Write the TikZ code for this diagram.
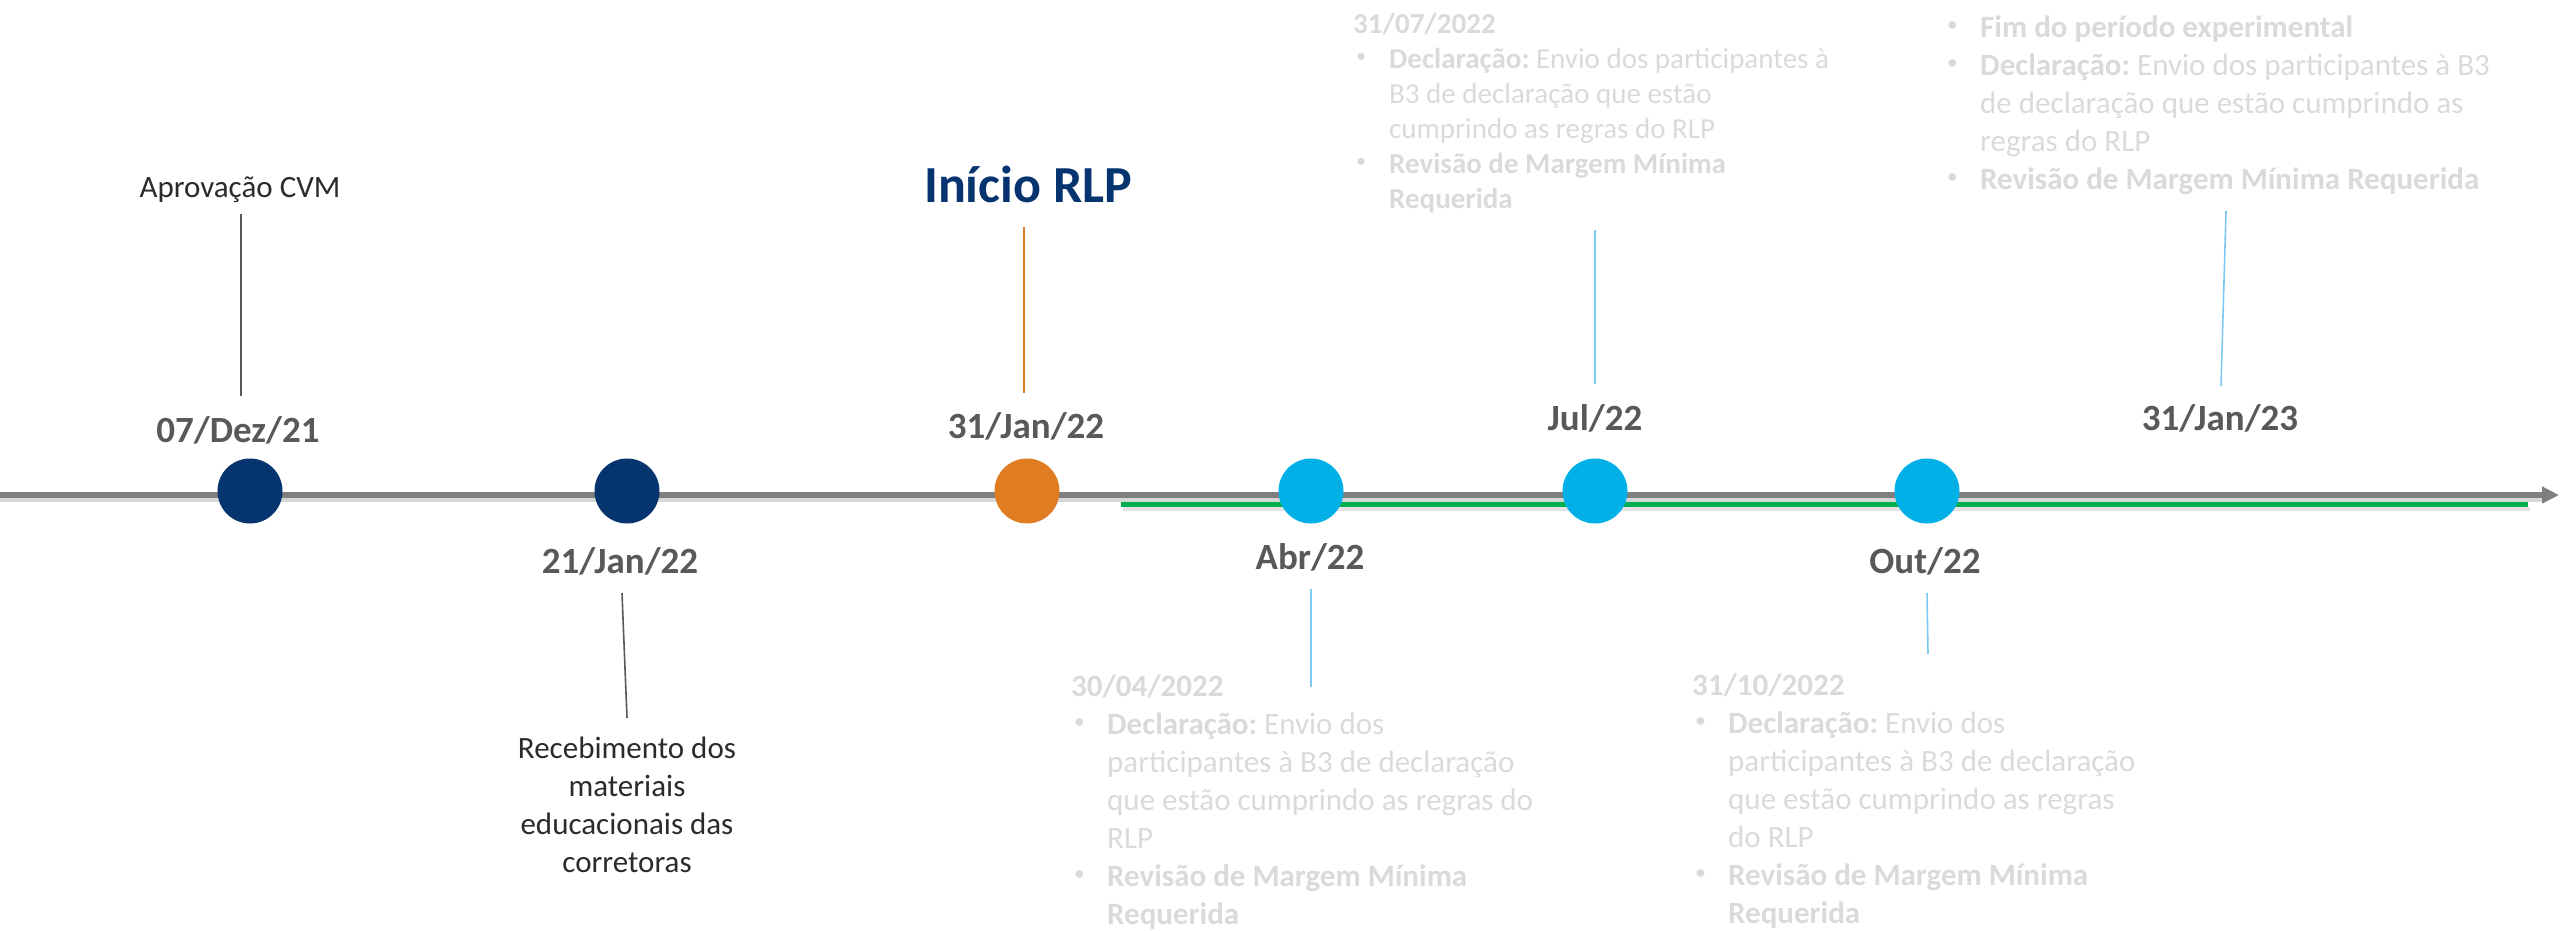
\documentclass[tikz,border=0pt]{standalone}
\usepackage{fontspec}
\setmainfont{Carlito}
\usetikzlibrary{arrows.meta}
\definecolor{navy}{HTML}{06346F}
\definecolor{orangeA}{HTML}{E07C22}
\definecolor{cyanA}{HTML}{00B0E6}
\definecolor{axisgray}{HTML}{7F7F7F}
\definecolor{greenA}{HTML}{00B050}
\definecolor{dategray}{HTML}{595959}
\definecolor{fadegray}{HTML}{DADADA}
\definecolor{textdark}{HTML}{2B2B2B}
\definecolor{conngray}{HTML}{595959}
\definecolor{lightblue}{HTML}{7DC8F0}
\frenchspacing
\newcommand\blkbul{\makebox[36pt][l]{\hspace*{3pt}\raisebox{0.18em}{\scalebox{0.7}{•}}}}
\newcommand\blkind{\hspace*{36pt}}
\tikzset{
  dot/.style={circle, minimum size=65pt, inner sep=0pt, draw=none},
  datelbl/.style={anchor=base, inner sep=0pt, text=dategray, font=\fontsize{37}{44}\selectfont\bfseries},
  faded/.style={anchor=base west, inner sep=0pt, text=fadegray},
  eventtxt/.style={anchor=base, inner sep=0pt, text=textdark, font=\fontsize{31}{38}\selectfont},
  conndark/.style={draw=conngray, line width=1.6pt},
  connblue/.style={draw=lightblue, line width=1.6pt},
  connorange/.style={draw=orangeA, line width=1.6pt},
}
\begin{document}
\begin{tikzpicture}[x=1pt, y=-1pt]
\useasboundingbox (0,0) rectangle (2560,930);
% axis with shadow
\coordinate (axL) at (0,495);
\coordinate (axR) at (2559,495);
\coordinate (axsL) at (0,500);
\coordinate (axsR) at (2543,500);
\draw[line width=4pt, gray!45, opacity=0.7] (axsL) -- (axsR);
\draw[line width=5.5pt, axisgray, -{Triangle[length=17pt,width=16pt]}] (axL) -- (axR);
% green period line with shadow
\coordinate (grL) at (1121,504.5);
\coordinate (grR) at (2528,504.5);
\coordinate (grsL) at (1123,509);
\coordinate (grsR) at (2530,509);
\draw[line width=4pt, gray!35, opacity=0.6] (grsL) -- (grsR);
\draw[line width=5pt, greenA] (grL) -- (grR);
% dots
\node[dot, fill=navy] (d1) at (250,491) {};
\node[dot, fill=navy] (d2) at (627,491) {};
\node[dot, fill=orangeA] (d3) at (1027,491) {};
\node[dot, fill=cyanA] (d4) at (1311,491) {};
\node[dot, fill=cyanA] (d5) at (1595,491) {};
\node[dot, fill=cyanA] (d6) at (1927,491) {};
% date labels
\node[datelbl] (l1) at (238,442) {07/Dez/21};
\node[datelbl] (l2) at (620,573) {21/Jan/22};
\node[datelbl] (l3) at (1026,438) {31/Jan/22};
\node[datelbl] (l4) at (1310,569) {Abr/22};
\node[datelbl] (l5) at (1595,430) {Jul/22};
\node[datelbl] (l6) at (1925,573) {Out/22};
\node[datelbl] (l7) at (2220,430) {31/Jan/23};
% events
\node[eventtxt] (e1) at (240,197) {Aprovação CVM};
\node[anchor=base, inner sep=0pt, text=navy, font=\fontsize{52}{62}\selectfont\bfseries] (e3) at (1028,202) {Início RLP};
\node[eventtxt] (e2) at (627,758) {\vtop{\hbox to 320pt{\hss Recebimento dos\hss}\hbox to 320pt{\hss materiais\hss}\hbox to 320pt{\hss educacionais das\hss}\hbox to 320pt{\hss corretoras\hss}}};
% faded blocks
\node[faded, font=\fontsize{29}{35}\selectfont] (bA) at (1353,33) {\vtop{%
\hbox{\textbf{31/07/2022}}%
\hbox{\blkbul\textbf{Declaração:} Envio dos participantes à}%
\hbox{\blkind B3 de declaração que estão}%
\hbox{\blkind cumprindo as regras do RLP}%
\hbox{\blkbul\textbf{Revisão de Margem Mínima}}%
\hbox{\blkind\textbf{Requerida}}}};
\node[faded, font=\fontsize{31}{38}\selectfont] (bB) at (1944,37) {\vtop{%
\hbox{\blkbul\textbf{Fim do período experimental}}%
\hbox{\blkbul\textbf{Declaração:} Envio dos participantes à B3}%
\hbox{\blkind de declaração que estão cumprindo as}%
\hbox{\blkind regras do RLP}%
\hbox{\blkbul\textbf{Revisão de Margem Mínima Requerida}}}};
\node[faded, font=\fontsize{31}{38}\selectfont] (bC) at (1071,696) {\vtop{%
\hbox{\textbf{30/04/2022}}%
\hbox{\blkbul\textbf{Declaração:} Envio dos}%
\hbox{\blkind participantes à B3 de declaração}%
\hbox{\blkind que estão cumprindo as regras do}%
\hbox{\blkind RLP}%
\hbox{\blkbul\textbf{Revisão de Margem Mínima}}%
\hbox{\blkind\textbf{Requerida}}}};
\node[faded, font=\fontsize{31}{38}\selectfont] (bD) at (1692,695) {\vtop{%
\hbox{\textbf{31/10/2022}}%
\hbox{\blkbul\textbf{Declaração:} Envio dos}%
\hbox{\blkind participantes à B3 de declaração}%
\hbox{\blkind que estão cumprindo as regras}%
\hbox{\blkind do RLP}%
\hbox{\blkbul\textbf{Revisão de Margem Mínima}}%
\hbox{\blkind\textbf{Requerida}}}};
% connectors
\coordinate (c1t) at (241,214); \coordinate (c1b) at (241,396);
\draw[conndark] (c1t) -- (c1b);
\coordinate (c2t) at (622,593); \coordinate (c2b) at (627,718);
\draw[conndark] (c2t) -- (c2b);
\coordinate (c3t) at (1024,227); \coordinate (c3b) at (1024,393);
\draw[connorange] (c3t) -- (c3b);
\coordinate (c4t) at (1311,589); \coordinate (c4b) at (1311,687);
\draw[connblue] (c4t) -- (c4b);
\coordinate (c5t) at (1595,230); \coordinate (c5b) at (1595,384);
\draw[connblue] (c5t) -- (c5b);
\coordinate (c6t) at (1927,593); \coordinate (c6b) at (1928,654);
\draw[connblue] (c6t) -- (c6b);
\coordinate (c7t) at (2226,211); \coordinate (c7b) at (2221,386);
\draw[connblue] (c7t) -- (c7b);
\end{tikzpicture}
\end{document}
